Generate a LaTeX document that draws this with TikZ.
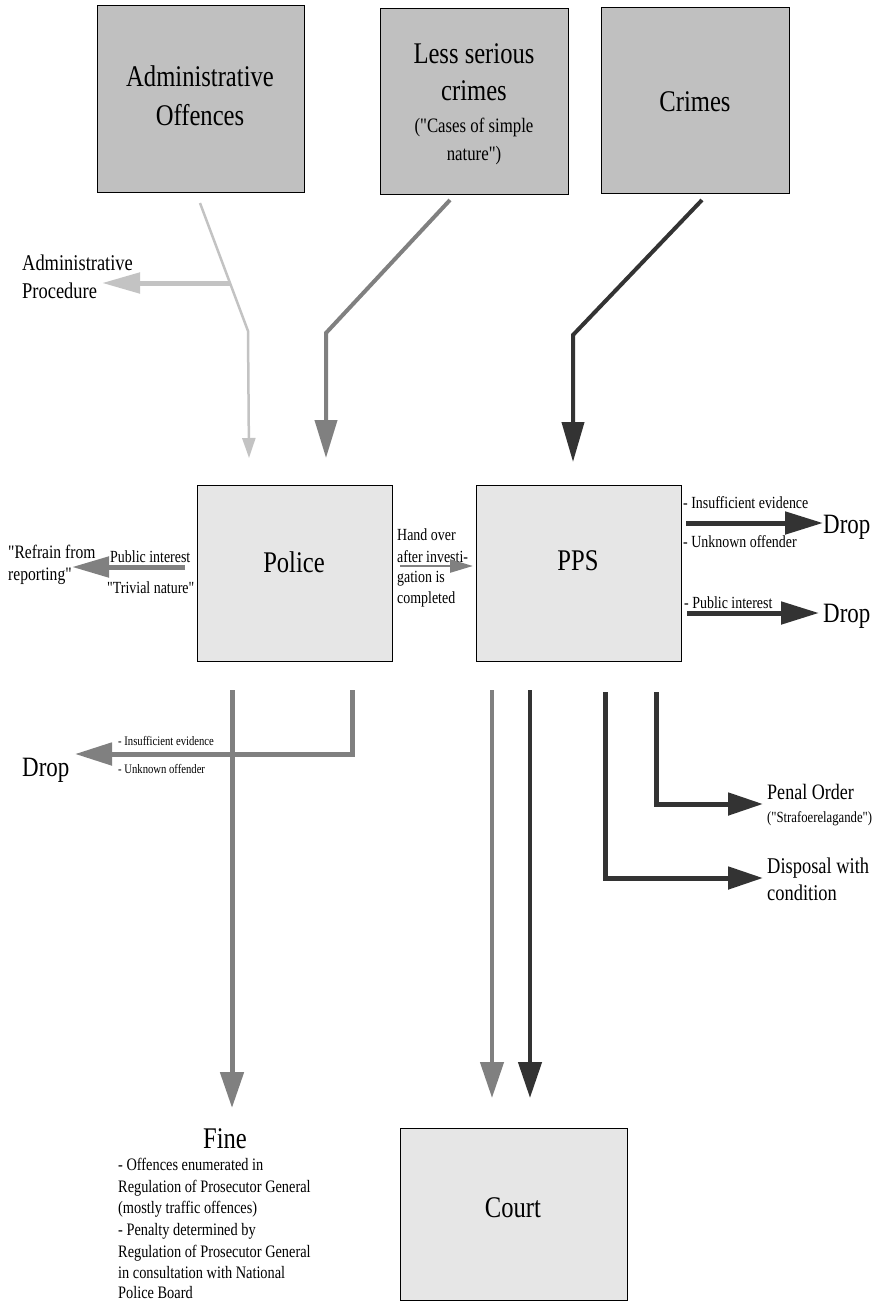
\documentclass[tikz,border=0pt]{standalone}
\usepackage{fontspec}
\setmainfont{Liberation Serif}[FakeStretch=0.82, Ligatures=TeXOff]
\usetikzlibrary{arrows.meta}

\definecolor{lightln}{RGB}{195,195,195}
\definecolor{midln}{RGB}{128,128,128}
\definecolor{darkln}{RGB}{51,51,51}
\definecolor{topfill}{RGB}{192,192,192}
\definecolor{lowfill}{RGB}{230,230,230}

\newcommand\txtsize[1]{\fontsize{#1pt}{#1pt}\selectfont}

\tikzset{
  box/.style={draw=black, line width=1.3pt, inner sep=0pt, anchor=north west},
  topbox/.style={box, fill=topfill},
  lowbox/.style={box, fill=lowfill},
  lbl/.style={inner sep=0pt, anchor=base west},
  clbl/.style={inner sep=0pt, anchor=base},
  lightflow/.style={draw=lightln},
  midflow/.style={draw=midln},
  darkflow/.style={draw=darkln},
}

\begin{document}
\begin{tikzpicture}[x=1pt, y=-1pt, line join=miter]
\useasboundingbox (0,0) rectangle (892,1303);

% ---------- boxes ----------
\node[topbox, minimum width=207pt, minimum height=187pt] (adm) at (97,5) {};
\node[topbox, minimum width=188pt, minimum height=186pt] (less) at (380,8) {};
\node[topbox, minimum width=188pt, minimum height=186pt] (crimes) at (601,7) {};
\node[lowbox, minimum width=195pt, minimum height=176pt] (police) at (197,485) {};
\node[lowbox, minimum width=205pt, minimum height=176pt] (pps) at (476,485) {};
\node[lowbox, minimum width=227pt, minimum height=172pt] (court) at (400,1128) {};

% ---------- box texts ----------
\node[clbl, font=\txtsize{30}] (admA) at (200,87) {Administrative};
\node[clbl, font=\txtsize{30}] (admB) at (200,125) {Offences};
\node[clbl, font=\txtsize{30}] (lessA) at (474,64) {Less serious};
\node[clbl, font=\txtsize{30}] (lessB) at (474,101) {crimes};
\node[clbl, font=\txtsize{20.5}] (lessC) at (474,132) {("Cases of simple};
\node[clbl, font=\txtsize{20.5}] (lessD) at (474,160) {nature")};
\node[clbl, font=\txtsize{30}] (crimesT) at (695,112) {Crimes};
\node[clbl, font=\txtsize{30}] (policeT) at (294,572) {Police};
\node[clbl, font=\txtsize{30}] (ppsT) at (578,570) {PPS};
\node[clbl, font=\txtsize{30}] (courtT) at (513,1217) {Court};

% ---------- administrative offences ----------
\coordinate (admS) at (200,203);
\coordinate (admK) at (248,331);
\coordinate (admE) at (249,458);
\coordinate (admJ) at (230,283);
\coordinate (admP) at (102,283);
\draw[lightflow, line width=2.5pt, -{Triangle[length=20pt,width=13pt]}] (admS) -- (admK) -- (admE);
\draw[lightflow, line width=5pt, -{Triangle[length=38pt,width=20pt]}] (admJ) -- (admP);
\node[lbl, font=\txtsize{22.5}] (procA) at (22,270) {Administrative};
\node[lbl, font=\txtsize{22.5}] (procB) at (22,298) {Procedure};

% ---------- less serious crimes ----------
\coordinate (lessS) at (450,200);
\coordinate (lessK) at (326,333);
\coordinate (lessE) at (326,458);
\draw[midflow, line width=4pt, -{Triangle[length=38pt,width=22pt]}] (lessS) -- (lessK) -- (lessE);

% ---------- crimes ----------
\coordinate (crS) at (702,200);
\coordinate (crK) at (573,335);
\coordinate (crE) at (573,462);
\draw[darkflow, line width=4pt, -{Triangle[length=40pt,width=22pt]}] (crS) -- (crK) -- (crE);

% ---------- police: refrain from reporting ----------
\coordinate (refS) at (185,567);
\coordinate (refE) at (72,567);
\draw[midflow, line width=5pt, -{Triangle[length=37pt,width=20pt]}] (refS) -- (refE);
\node[lbl, font=\txtsize{19}] (refA) at (8,558) {"Refrain from};
\node[lbl, font=\txtsize{19}] (refB) at (8,580) {reporting"};
\node[lbl, font=\txtsize{17}] (pubA) at (110,562) {Public interest};
\node[lbl, font=\txtsize{17}] (pubB) at (107,593) {"Trivial nature"};

% ---------- police: hand over ----------
\node[lbl, font=\txtsize{17}] (handA) at (397,540) {Hand over};
\node[lbl, font=\txtsize{17}] (handB) at (397,562) {after investi-};
\node[lbl, font=\txtsize{17}] (handC) at (397,582) {gation is};
\node[lbl, font=\txtsize{17}] (handD) at (397,603) {completed};
\coordinate (handS) at (400,566);
\coordinate (handE) at (473,566);
\draw[midflow, line width=2.5pt, -{Triangle[length=23pt,width=13pt]}] (handS) -- (handE);

% ---------- PPS: drops ----------
\coordinate (pd1S) at (686,523);
\coordinate (pd1E) at (823,523);
\coordinate (pd2S) at (687,613);
\coordinate (pd2E) at (819,613);
\draw[darkflow, line width=5pt, -{Triangle[length=38pt,width=22pt]}] (pd1S) -- (pd1E);
\draw[darkflow, line width=5pt, -{Triangle[length=38pt,width=22pt]}] (pd2S) -- (pd2E);
\node[lbl, font=\txtsize{17}] (pdA) at (683,508) {- Insufficient evidence};
\node[lbl, font=\txtsize{17}] (pdB) at (683,547) {- Unknown offender};
\node[lbl, font=\txtsize{17}] (pdC) at (684,608) {- Public interest};
\node[lbl, font=\txtsize{28}] (drop1) at (823,533) {Drop};
\node[lbl, font=\txtsize{28}] (drop2) at (823,622) {Drop};

% ---------- police: fine and drop ----------
\coordinate (fineS) at (232,690);
\coordinate (fineE) at (232,1108);
\coordinate (plS) at (352,690);
\coordinate (plK) at (352,754);
\coordinate (plE) at (75,754);
\draw[midflow, line width=5pt, -{Triangle[length=36pt,width=23pt]}] (fineS) -- (fineE);
\draw[midflow, line width=5pt, -{Triangle[length=37pt,width=22pt]}] (plS) -- (plK) -- (plE);
\node[lbl, font=\txtsize{13}] (plA) at (118,745) {- Insufficient evidence};
\node[lbl, font=\txtsize{13}] (plB) at (118,773) {- Unknown offender};
\node[lbl, font=\txtsize{28}] (drop3) at (22,776) {Drop};

% ---------- PPS: court, penal order, disposal ----------
\coordinate (c1S) at (492,690);
\coordinate (c1E) at (492,1098);
\coordinate (c2S) at (530,690);
\coordinate (c2E) at (530,1098);
\draw[midflow, line width=4.5pt, -{Triangle[length=36pt,width=23pt]}] (c1S) -- (c1E);
\draw[darkflow, line width=4.5pt, -{Triangle[length=36pt,width=23pt]}] (c2S) -- (c2E);
\coordinate (dsS) at (605,692);
\coordinate (dsK) at (605,878);
\coordinate (dsE) at (763,878);
\coordinate (poS) at (656,692);
\coordinate (poK) at (656,804);
\coordinate (poE) at (763,804);
\draw[darkflow, line width=5pt, -{Triangle[length=35pt,width=22pt]}] (dsS) -- (dsK) -- (dsE);
\draw[darkflow, line width=5pt, -{Triangle[length=35pt,width=22pt]}] (poS) -- (poK) -- (poE);
\node[lbl, font=\txtsize{22}] (poA) at (767,799) {Penal Order};
\node[lbl, font=\txtsize{15.5}] (poB) at (767,822) {("Strafoerelagande")};
\node[lbl, font=\txtsize{22.5}] (dsA) at (767,873) {Disposal with};
\node[lbl, font=\txtsize{22.5}] (dsB) at (767,900) {condition};

% ---------- fine ----------
\node[clbl, font=\txtsize{30}] (fineT) at (225,1148) {Fine};
\node[lbl, font=\txtsize{17.5}] (fine1) at (118,1170) {- Offences enumerated in};
\node[lbl, font=\txtsize{17.5}] (fine2) at (118,1192) {Regulation of Prosecutor General};
\node[lbl, font=\txtsize{17.5}] (fine3) at (118,1213) {(mostly traffic offences)};
\node[lbl, font=\txtsize{17.5}] (fine4) at (118,1235) {- Penalty determined by};
\node[lbl, font=\txtsize{17.5}] (fine5) at (118,1257) {Regulation of Prosecutor General};
\node[lbl, font=\txtsize{17.5}] (fine6) at (118,1278) {in consultation with National};
\node[lbl, font=\txtsize{17.5}] (fine7) at (118,1298) {Police Board};
\end{tikzpicture}
\end{document}
